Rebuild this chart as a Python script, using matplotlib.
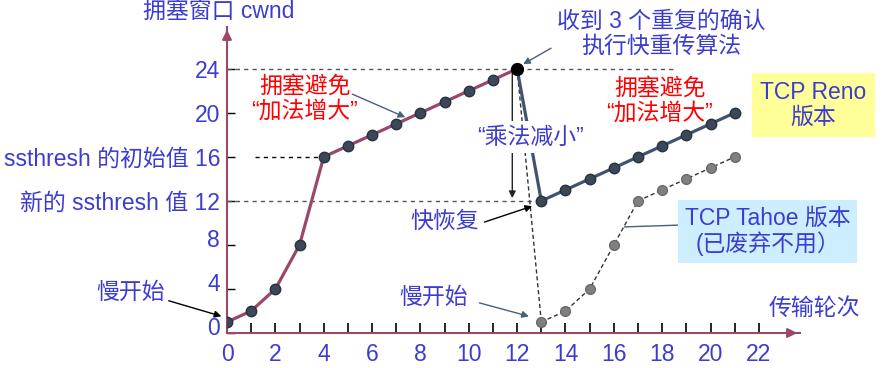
import matplotlib.pyplot as plt
from matplotlib.transforms import ScaledTranslation

plt.rcParams['font.family'] = ['Liberation Sans', 'Noto Sans CJK SC', 'DejaVu Sans']

# data
reno_rounds_a = [0, 1, 2, 3, 4, 5, 6, 7, 8, 9, 10, 11, 12]
reno_cwnd_a = [1, 2, 4, 8, 16, 17, 18, 19, 20, 21, 22, 23, 24]
reno_rounds_b = [13, 14, 15, 16, 17, 18, 19, 20, 21]
reno_cwnd_b = [12, 13, 14, 15, 16, 17, 18, 19, 20]
tahoe_rounds = [13, 14, 15, 16, 17, 18, 19, 20, 21]
tahoe_cwnd = [1, 2, 4, 8, 12, 13, 14, 15, 16]
ssthresh_init = 16
ssthresh_new = 12
cwnd_peak = 24

x_ticks = list(range(0, 23, 2))
y_ticks = [0, 4, 8, 12, 16, 20, 24]
y_labels = ['0', '4', '8', '新的 ssthresh 值 12', 'ssthresh 的初始值 16', '20', '24']

BLUE = '#3c3cd0'
MAUVE = '#984868'
SLATE = '#3f5470'
DOT = '#3b4858'

fig = plt.figure(figsize=(8.83, 3.68), dpi=100)
ax = fig.add_axes([227 / 883, 35 / 368, 573 / 883, 306 / 368])
ax.set_xlim(0, 23.7)
ax.set_ylim(0, 27.8)

# reference dashed lines
ax.plot([0, 18.6], [cwnd_peak, cwnd_peak], ls=(0, (3, 3)), color='#555555', lw=1)
ax.plot([1.15, 4], [ssthresh_init, ssthresh_init], ls=(0, (3, 3)), color='black', lw=1)
ax.plot([0, 13], [ssthresh_new, ssthresh_new], ls=(0, (3, 3)), color='#555555', lw=1)

# tahoe (dashed, gray)
ax.plot([reno_rounds_a[-1], tahoe_rounds[0]], [reno_cwnd_a[-1], tahoe_cwnd[0]],
        ls=(0, (3, 2)), color='#333333', lw=1)
ax.plot(tahoe_rounds, tahoe_cwnd, ls=(0, (3, 2)), color='#333333', lw=1,
        marker='o', ms=7, mfc='#808080', mec='#6a6a6a', zorder=3)

# multiplicative decrease arrow
ax.annotate('', xy=(11.8, ssthresh_new), xytext=(11.8, cwnd_peak),
            arrowprops=dict(arrowstyle='-|>', color='#222222', lw=1, mutation_scale=10))

# reno
ax.plot(reno_rounds_a, reno_cwnd_a, color=MAUVE, lw=2.3, marker='o', ms=7.5,
        mfc=DOT, mec='#28323e', zorder=4)
ax.plot([reno_rounds_a[-1], reno_rounds_b[0]], [reno_cwnd_a[-1], reno_cwnd_b[0]],
        color=SLATE, lw=2.3, zorder=4)
ax.plot(reno_rounds_b, reno_cwnd_b, color=SLATE, lw=2.3, marker='o', ms=7.5,
        mfc=DOT, mec='#28323e', zorder=4)
ax.plot([reno_rounds_a[-1]], [reno_cwnd_a[-1]], 'o', ms=8.5, color='black', zorder=5)

# axes styling
for s in ['top', 'right']:
    ax.spines[s].set_visible(False)
for s in ['left', 'bottom']:
    ax.spines[s].set_color(MAUVE)
    ax.spines[s].set_linewidth(1.5)
ax.annotate('', xy=(1.0, 0), xytext=(0.98, 0), xycoords='axes fraction',
            arrowprops=dict(arrowstyle='-|>', color=MAUVE, lw=1.5, mutation_scale=14))
ax.annotate('', xy=(0, 1.0), xytext=(0, 0.97), xycoords='axes fraction',
            arrowprops=dict(arrowstyle='-|>', color=MAUVE, lw=1.5, mutation_scale=14))

fs = 16.5
ax.set_xticks(range(0, 23), minor=True)
ax.set_xticks(x_ticks)
ax.set_xticklabels([str(v) for v in x_ticks])
ax.tick_params(axis='x', which='both', direction='in', length=7, width=1.2,
               color='black', labelcolor=BLUE, labelsize=fs, pad=7)
ax.set_yticks(y_ticks)
ax.set_yticklabels(y_labels)
ax.tick_params(axis='y', direction='in', length=6, width=1, color='black',
               labelcolor=BLUE, labelsize=fs, pad=5)
for lab, v in zip(ax.get_yticklabels(), y_ticks):
    if v in (0, 4, 8):
        lab.set_transform(lab.get_transform() + ScaledTranslation(0, 5 / 72, fig.dpi_scale_trans))

ax.text(-0.33, 29.2, '拥塞窗口 cwnd', color=BLUE, fontsize=fs, ha='center', va='center',
        clip_on=False)
ax.text(24.3, 2.27, '传输轮次', color=BLUE, fontsize=fs, ha='center', va='center',
        clip_on=False)

# annotations
arrow_slate = dict(arrowstyle='-|>', color='#4a5f78', lw=1, mutation_scale=10)
arrow_black = dict(arrowstyle='-|>', color='black', lw=1, mutation_scale=10)

ax.text(3.22, 21.3, '拥塞避免\n“加法增大”', color='red', fontsize=fs, ha='center',
        va='center', linespacing=1.1)
ax.annotate('', xy=(7.48, 19.5), xytext=(5.08, 21.8), arrowprops=arrow_slate)

ax.text(17.97, 27.2, '收到 3 个重复的确认\n执行快重传算法', color=BLUE, fontsize=fs,
        ha='center', va='center', linespacing=1.1, clip_on=False)
ax.annotate('', xy=(12.15, 24.3), xytext=(13.5, 26.0), arrowprops=arrow_slate,
            annotation_clip=False)

ax.text(17.9, 21.1, '拥塞避免\n“加法增大”', color='red', fontsize=fs, ha='center',
        va='center', linespacing=1.1)

ax.text(24.26, 20.7, 'TCP Reno\n版本', color=BLUE, fontsize=fs, ha='center', va='center',
        linespacing=1.1, clip_on=False,
        bbox=dict(boxstyle='square,pad=0.35', fc='#ffff99', ec='none'))

ax.plot([16.45, 18.93], [9.64, 9.82], color='#4a5f78', lw=1)
ax.text(22.36, 9.23, 'TCP Tahoe 版本\n(已废弃不用）', color=BLUE, fontsize=fs, ha='center',
        va='center', linespacing=1.1, clip_on=False,
        bbox=dict(boxstyle='square,pad=0.3', fc='#cdeeff', ec='none'))

ax.text(12.56, 17.8, '“乘法减小”', color=BLUE, fontsize=fs, ha='center', va='center',
        zorder=6, bbox=dict(boxstyle='square,pad=0.2', fc='white', ec='none'))

ax.text(9.0, 10.1, '快恢复', color=BLUE, fontsize=fs, ha='center', va='center')
ax.annotate('', xy=(12.73, 11.6), xytext=(10.54, 10.0), arrowprops=arrow_black)

ax.text(-4.0, 3.64, '慢开始', color=BLUE, fontsize=fs, ha='center', va='center',
        clip_on=False)
ax.annotate('', xy=(-0.12, 1.45), xytext=(-2.52, 3.0), arrowprops=arrow_black,
            annotation_clip=False)

ax.text(8.55, 3.27, '慢开始', color=BLUE, fontsize=fs, ha='center', va='center')
ax.annotate('', xy=(12.6, 1.45), xytext=(10.33, 2.8), arrowprops=arrow_slate)

fig.savefig('out.png', dpi=100)
